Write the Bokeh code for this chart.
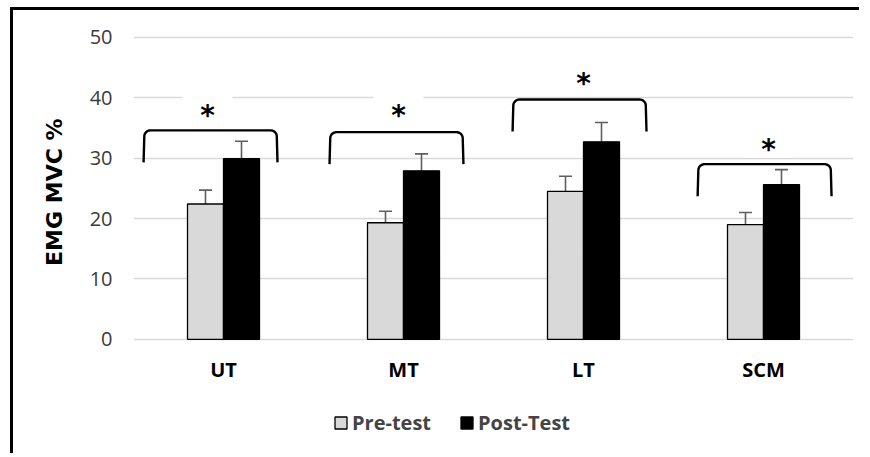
import numpy as np
from bokeh.plotting import figure
from bokeh.models import FixedTicker, Whisker, ColumnDataSource, Legend, LegendItem, TeeHead, Title
from bokeh.core.properties import value
from bokeh.embed import file_html
from bokeh.resources import INLINE

# ---- data ----
categories = ["UT", "MT", "LT", "SCM"]
series_labels = ["Pre-test", "Post-Test"]
pre_test = [22.4, 19.3, 24.5, 19.0]
pre_err = [2.3, 1.9, 2.5, 2.0]
post_test = [29.9, 27.9, 32.7, 25.6]
post_err = [2.9, 2.8, 3.2, 2.5]
y_ticks = [0, 10, 20, 30, 40, 50]
y_title = "EMG MVC %"
sig_marks = ["*", "*", "*", "*"]
bracket_top = [34.6, 34.3, 39.7, 29.0]
star_level = [38.3, 38.3, 43.7, 32.7]

# ---- annotation placement (styles) ----
bracket_shift = [-0.072, -0.039, -0.022, 0.006]
star_shift = [-0.089, -0.028, 0.0, 0.028]
bracket_half = 0.372
bracket_drop = 5.3
corner_dx, corner_dy = 0.035, 1.0

FONT = "Open Sans"
GRID = "#d9d9d9"

xs = np.arange(len(categories)) + 0.5
bar_w = 0.2

p = figure(width=849, height=446, x_range=(0, 4), y_range=(-19.4, 50.3),
           x_axis_location=None,
           output_backend="svg", toolbar_location=None)
p.min_border_left = 120
p.min_border_right = 9
p.min_border_top = 25
p.min_border_bottom = 0
p.outline_line_color = None
p.background_fill_color = "white"
p.border_fill_color = "white"
p.styles = {"margin-left": "10px", "margin-top": "7px",
            "border-left": "3px solid black", "border-top": "3px solid black"}

pre_src = ColumnDataSource(dict(x=xs - bar_w / 2, top=pre_test,
                                hi=np.array(pre_test) + np.array(pre_err)))
post_src = ColumnDataSource(dict(x=xs + bar_w / 2, top=post_test,
                                 hi=np.array(post_test) + np.array(post_err)))

r_pre = p.vbar(x="x", top="top", bottom=0, width=bar_w, source=pre_src,
               fill_color="#d9d9d9", line_color="black", line_width=1.3)
r_post = p.vbar(x="x", top="top", bottom=0, width=bar_w, source=post_src,
                fill_color="black", line_color="black", line_width=1.3)

for src in (pre_src, post_src):
    w = Whisker(base="x", lower="top", upper="hi", source=src,
                line_color="#5f5f5f", line_width=1.6,
                upper_head=TeeHead(size=13, line_color="#5f5f5f", line_width=1.6),
                lower_head=None)
    p.add_layout(w)

# brackets
bx, by = [], []
t = np.linspace(0, np.pi / 2, 8)
for i in range(len(categories)):
    cx = xs[i] + bracket_shift[i]
    top = bracket_top[i]
    x0, x1 = cx - bracket_half, cx + bracket_half
    bot = top - bracket_drop
    lx = list(x0 + 0.004 + corner_dx * (1 - np.cos(t)))
    ly = list(top - corner_dy + corner_dy * np.sin(t))
    rx = list(x1 - 0.004 - corner_dx * (1 - np.cos(t[::-1])))
    ry = list(top - corner_dy + corner_dy * np.sin(t[::-1]))
    bx.append([x0] + lx + rx + [x1])
    by.append([bot] + ly + ry + [bot])
p.multi_line(bx, by, line_color="black", line_width=2.4)

# significance stars on white boxes
star_x = xs + np.array(star_shift)
p.rect(x=star_x, y=star_level, width=50, height=32, width_units="screen",
       height_units="screen", fill_color="white", line_color=None)
p.text(x=star_x, y=star_level, text=sig_marks, y_offset=8,
       text_font=value("DejaVu Sans"), text_font_size="28px",
       text_font_style="bold", text_align="center", text_baseline="middle",
       text_color="black")

# category labels under the baseline
p.text(x=xs, y=[0] * len(xs), text=categories, y_offset=30,
       text_font=value(FONT), text_font_size="20px", text_font_style="bold",
       text_align="center", text_baseline="middle", text_color="black")

# grid / y axis
p.xgrid.grid_line_color = None
p.ygrid.ticker = FixedTicker(ticks=y_ticks)
p.ygrid.grid_line_color = GRID
p.ygrid.grid_line_width = 1.6

p.yaxis.ticker = FixedTicker(ticks=y_ticks)
p.yaxis.bounds = (y_ticks[0], y_ticks[-1])
p.yaxis.axis_line_color = None
p.yaxis.major_tick_line_color = None
p.yaxis.minor_tick_line_color = None
p.yaxis.major_label_text_font = FONT
p.yaxis.major_label_text_font_size = "20px"
p.yaxis.major_label_text_color = "#3a3a3a"
p.yaxis.major_label_standoff = 15

# y-axis title as a side title, placed along the 0-50 span
p.add_layout(Title(text=y_title, align="right", offset=83, standoff=39,
                   text_font="DejaVu Sans", text_font_size="22px",
                   text_font_style="bold", text_color="black"), "left")

legend = Legend(items=[LegendItem(label=series_labels[0], renderers=[r_pre]),
                       LegendItem(label=series_labels[1], renderers=[r_post])],
                orientation="horizontal", location=(200, 20),
                margin=0, padding=0, spacing=28, label_standoff=4,
                glyph_width=15, glyph_height=15,
                label_text_font=FONT, label_text_font_size="20px",
                label_text_font_style="bold",
                border_line_color=None, background_fill_alpha=0)
p.add_layout(legend, "center")

open("out.html", "w").write(file_html(p, INLINE))
